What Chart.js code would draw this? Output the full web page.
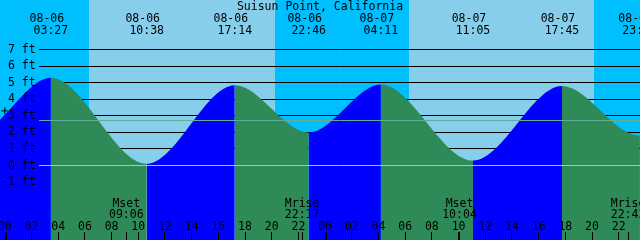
<!DOCTYPE html>
<html lang="en">
<head>
<meta charset="UTF-8">
<title>Suisun Point, California</title>
<script src="https://cdn.jsdelivr.net/npm/chart.js"></script>
<style>
  body { margin: 0; background: #00bfff; }
  #wrap { width: 640px; height: 240px; position: relative; }
</style>
</head>
<body>
<div id="wrap"><canvas id="tide"></canvas></div>
<script>
const stationName = 'Suisun Point, California';

// hours counted from 08-06 00:00, heights in feet (highs and lows)
const tideHours = [-8.6, -2.1, 3.45, 10.63, 17.23, 22.77, 28.18, 35.08, 41.75, 47.57, 53.5];
const tideFeet  = [4.9, 2.0, 5.3, 0.1, 4.85, 2.0, 4.9, 0.3, 4.8, 1.8, 5.0];
const tideDates = ['', '', '08-06', '08-06', '08-06', '08-06', '08-07', '08-07', '08-07', '08-07', ''];
const tideClock = ['', '', '03:27', '10:38', '17:14', '22:46', '04:11', '11:05', '17:45', '23:34', ''];

// sunrise, sunset, sunrise, sunset
const sunHours = [6.30, 20.24, 30.28, 44.15];

const moonHours = [9.10, 22.28, 34.07, 46.70];
const moonNames = ['Mset', 'Mrise', 'Mset', 'Mrise'];
const moonClock = ['09:06', '22:17', '10:04', '22:42'];

const hourTicks  = [0, 2, 4, 6, 8, 10, 12, 14, 16, 18, 20, 22, 24, 26, 28, 30, 32, 34, 36, 38, 40, 42, 44, 46];
const hourLabels = ['00', '02', '04', '06', '08', '10', '12', '14', '16', '18', '20', '22',
                    '00', '02', '04', '06', '08', '10', '12', '14', '16', '18', '20', '22'];

const footTicks  = [-1, 0, 1, 2, 3, 4, 5, 6, 7];
const footLabels = ['-1 ft', ' 0 ft', ' 1 ft', ' 2 ft', ' 3 ft', ' 4 ft', ' 5 ft', ' 6 ft', ' 7 ft'];
const gridFeet = [1, 2, 3, 4, 5, 6, 7];
const datumFeet = 2.7;

const nowHour = 0;
const nowFeet = 3.3;

const NIGHT = '#00bfff';
const DAY = '#87ceeb';
const RISE = '#0000ff';
const FALL = '#2e8b57';
const FONT_FAMILY = '"DejaVu Sans Mono", monospace';
const FONT = '11.5px ' + FONT_FAMILY;

const crisp = v => Math.floor(v) + 0.5;

const tidePlot = {
  id: 'tidePlot',
  beforeDraw(chart) {
    const { ctx, chartArea: a, scales: { x } } = chart;
    ctx.save();
    ctx.fillStyle = NIGHT;
    ctx.fillRect(a.left, a.top, a.width, a.height);
    ctx.fillStyle = DAY;
    for (let i = 0; i < sunHours.length; i += 2) {
      const x0 = Math.round(x.getPixelForValue(sunHours[i]));
      const x1 = Math.round(x.getPixelForValue(sunHours[i + 1]));
      ctx.fillRect(x0, a.top, x1 - x0, a.height);
    }
    ctx.restore();
  },
  beforeDatasetsDraw(chart) {
    const { ctx, chartArea: a, scales: { y } } = chart;
    ctx.save();
    ctx.strokeStyle = '#000';
    ctx.lineWidth = 1;
    gridFeet.forEach(f => {
      const py = crisp(y.getPixelForValue(f));
      ctx.beginPath();
      ctx.moveTo(39, py);
      ctx.lineTo(a.right, py);
      ctx.stroke();
    });
    ctx.restore();
  },
  afterDatasetsDraw(chart) {
    const { ctx, chartArea: a, scales: { y } } = chart;
    ctx.save();
    ctx.lineWidth = 1;
    [[0, '#87ceeb'], [datumFeet, '#5faf96']].forEach(([f, c]) => {
      const py = crisp(y.getPixelForValue(f));
      ctx.strokeStyle = c;
      ctx.beginPath();
      ctx.moveTo(39, py);
      ctx.lineTo(a.right, py);
      ctx.stroke();
    });
    ctx.restore();
  },
  afterDraw(chart) {
    const { ctx, scales: { x } } = chart;
    ctx.save();
    ctx.font = FONT;
    ctx.fillStyle = '#000';
    ctx.strokeStyle = '#000';
    ctx.lineWidth = 1;
    ctx.textAlign = 'center';
    ctx.textBaseline = 'alphabetic';

    ctx.fillText(stationName, chart.width / 2, 10);

    tideHours.forEach((h, i) => {
      const px = x.getPixelForValue(h);
      ctx.fillText(tideDates[i], px - 4, 22);
      ctx.fillText(tideClock[i], px, 33.5);
    });

    moonHours.forEach((h, i) => {
      const px = x.getPixelForValue(h);
      ctx.fillText(moonNames[i], px, 206.5);
      ctx.fillText(moonClock[i], px, 218);
      ctx.beginPath();
      ctx.moveTo(crisp(px), 232);
      ctx.lineTo(crisp(px), 240);
      ctx.stroke();
    });

    hourTicks.forEach((h, i) => {
      const px = x.getPixelForValue(h);
      ctx.fillText(hourLabels[i], px, 229.5);
      if (hourLabels[i] === '00') {
        ctx.fillRect(Math.round(px), 232, 2, 8);
      } else {
        ctx.beginPath();
        ctx.moveTo(crisp(px), 232);
        ctx.lineTo(crisp(px), 240);
        ctx.stroke();
      }
    });
    ctx.restore();
  }
};

new Chart(document.getElementById('tide'), {
  type: 'line',
  data: {
    datasets: [
      {
        data: tideHours.map((h, i) => ({ x: h, y: tideFeet[i] })),
        order: 1,
        fill: 'start',
        backgroundColor: FALL,
        borderColor: 'transparent',
        borderWidth: 0,
        pointRadius: 0,
        cubicInterpolationMode: 'monotone',
        segment: {
          backgroundColor: c => c.p1.parsed.y > c.p0.parsed.y ? RISE : FALL
        }
      },
      {
        data: [{ x: nowHour, y: nowFeet }],
        order: 0,
        showLine: false,
        pointStyle: 'cross',
        pointRadius: 3.5,
        borderColor: '#000',
        borderWidth: 1
      }
    ]
  },
  options: {
    animation: false,
    responsive: true,
    maintainAspectRatio: false,
    layout: { padding: 0, autoPadding: false },
    plugins: { legend: { display: false }, tooltip: { enabled: false } },
    scales: {
      x: { type: 'linear', display: false, min: -0.362, max: 47.596 },
      y: {
        type: 'linear',
        position: 'left',
        min: -4.5,
        max: 10,
        afterFit: s => {
          s.width = 0;
          s.paddingTop = s.paddingBottom = s.paddingLeft = s.paddingRight = 0;
        },
        afterBuildTicks: s => { s.ticks = footTicks.map(v => ({ value: v })); },
        grid: { display: false },
        border: { display: false },
        ticks: {
          z: 1,
          mirror: true,
          padding: 1,
          autoSkip: false,
          color: '#000',
          font: { family: FONT_FAMILY, size: 11.5 },
          callback: v => footLabels[footTicks.indexOf(v)]
        }
      }
    }
  },
  plugins: [tidePlot]
});
</script>
</body>
</html>
